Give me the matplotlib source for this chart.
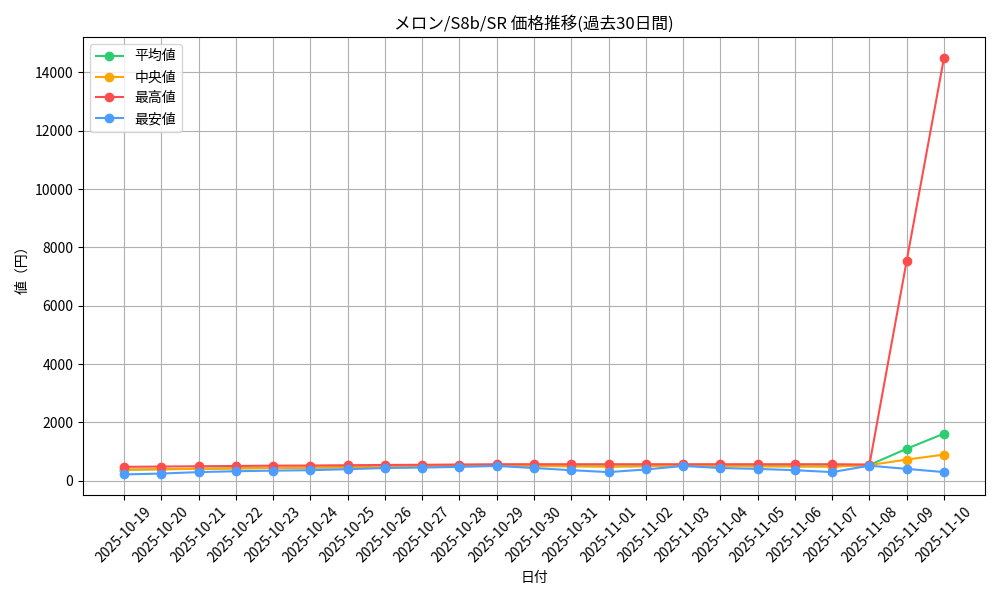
import matplotlib
matplotlib.use("Agg")
import matplotlib.pyplot as plt

plt.rcParams['font.family'] = ['Noto Sans CJK JP', 'DejaVu Sans']

# 日付と各系列の値（円）
dates = ['2025-10-19', '2025-10-20', '2025-10-21', '2025-10-22', '2025-10-23',
         '2025-10-24', '2025-10-25', '2025-10-26', '2025-10-27', '2025-10-28',
         '2025-10-29', '2025-10-30', '2025-10-31', '2025-11-01', '2025-11-02',
         '2025-11-03', '2025-11-04', '2025-11-05', '2025-11-06', '2025-11-07',
         '2025-11-08', '2025-11-09', '2025-11-10']

avg_price = [385, 400, 415, 430, 445, 455, 470, 485, 495, 510, 535, 515, 505, 495, 505,
             545, 515, 505, 500, 495, 545, 1100, 1620]
median_price = [380, 395, 410, 425, 440, 450, 465, 480, 490, 505, 530, 510, 500, 490, 500,
                540, 510, 500, 495, 490, 540, 730, 900]
max_price = [480, 490, 500, 510, 520, 525, 535, 545, 550, 560, 570, 570, 570, 570, 570,
             570, 570, 570, 570, 570, 560, 7550, 14500]
min_price = [220, 250, 300, 330, 350, 365, 400, 440, 455, 480, 510, 440, 365, 300, 390,
             510, 440, 410, 365, 300, 520, 410, 300]

fig, ax = plt.subplots(figsize=(10, 6), dpi=100)

ax.plot(dates, avg_price, marker='o', color='#2ecc71', label='平均値')
ax.plot(dates, median_price, marker='o', color='#ffa500', label='中央値')
ax.plot(dates, max_price, marker='o', color='#ff4d4d', label='最高値')
ax.plot(dates, min_price, marker='o', color='#4d9cff', label='最安値')

ax.set_title('メロン/S8b/SR 価格推移(過去30日間)')
ax.set_xlabel('日付')
ax.set_ylabel('値（円）')
ax.grid(True)
ax.legend(loc='upper left')
plt.xticks(rotation=45)
plt.tight_layout()
plt.savefig('out.png')
